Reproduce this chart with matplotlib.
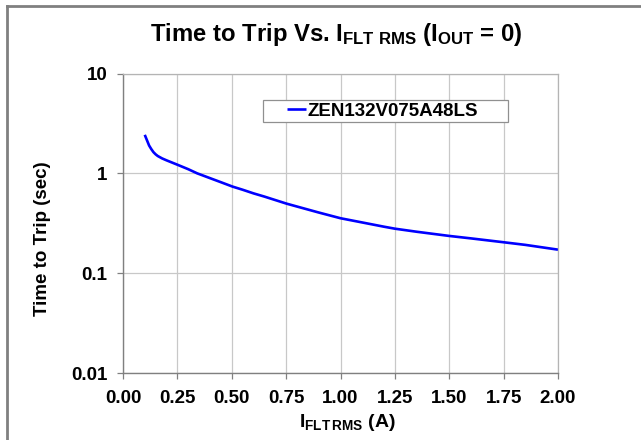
import matplotlib
matplotlib.use("Agg")
import matplotlib.pyplot as plt
from matplotlib.ticker import FixedLocator, FixedFormatter, NullLocator
from matplotlib.lines import Line2D
from matplotlib.patches import Rectangle

# ---- data ----
current_a = [0.10, 0.11, 0.12, 0.13, 0.14, 0.15, 0.16, 0.18, 0.20, 0.25, 0.30, 0.341,
             0.40, 0.45, 0.504, 0.55, 0.60, 0.65, 0.70, 0.752, 0.80, 0.90, 1.00,
             1.10, 1.20, 1.25, 1.35, 1.50, 1.60, 1.75, 1.85, 2.00]
trip_s = [2.43, 2.15, 1.90, 1.75, 1.63, 1.55, 1.49, 1.41, 1.35, 1.22, 1.10, 1.00,
          0.895, 0.815, 0.736, 0.685, 0.630, 0.585, 0.540, 0.497, 0.465, 0.405, 0.355,
          0.322, 0.292, 0.279, 0.260, 0.236, 0.223, 0.204, 0.192, 0.172]
series_name = "ZEN132V075A48LS"
x_ticks = [0.00, 0.25, 0.50, 0.75, 1.00, 1.25, 1.50, 1.75, 2.00]
x_tick_labels = ["0.00", "0.25", "0.50", "0.75", "1.00", "1.25", "1.50", "1.75", "2.00"]
y_ticks = [0.01, 0.1, 1, 10]
y_tick_labels = ["0.01", "0.1", "1", "10"]

plt.rcParams['font.family'] = ['Liberation Sans', 'DejaVu Sans']
plt.rcParams['font.weight'] = 'bold'
plt.rcParams['mathtext.fontset'] = 'custom'
plt.rcParams['mathtext.rm'] = 'Liberation Sans:bold'
plt.rcParams['mathtext.it'] = 'Liberation Sans:bold'
plt.rcParams['mathtext.bf'] = 'Liberation Sans:bold'

W, H = 641, 440
fig = plt.figure(figsize=(W / 100, H / 100), dpi=100)
fig.patch.set_facecolor('white')

L, R, T, B = 123, 558, 73.5, 373
ax = fig.add_axes([L / W, 1 - B / H, (R - L) / W, (B - T) / H])

ax.plot(current_a, trip_s, color='#0000ff', lw=1.9, solid_capstyle='butt',
        solid_joinstyle='round', label=series_name)
ax.set_yscale('log')
ax.set_xlim(0, 2.0)
ax.set_ylim(0.01, 10)

ax.xaxis.set_major_locator(FixedLocator(x_ticks))
ax.xaxis.set_major_formatter(FixedFormatter(x_tick_labels))
ax.yaxis.set_major_locator(FixedLocator(y_ticks))
ax.yaxis.set_major_formatter(FixedFormatter(y_tick_labels))
ax.yaxis.set_minor_locator(NullLocator())
ax.xaxis.set_minor_locator(NullLocator())

ax.grid(True, which='major', color='#c8c8c8', lw=0.9)
ax.set_axisbelow(True)
for s in ['left', 'bottom']:
    ax.spines[s].set_color('#808080')
    ax.spines[s].set_linewidth(1.0)
for s in ['top', 'right']:
    ax.spines[s].set_color('#b4b4b4')
    ax.spines[s].set_linewidth(0.9)

ax.tick_params(axis='both', which='major', direction='out', length=4,
               width=0.9, color='#808080', labelsize=13.5)
ax.tick_params(axis='y', pad=7)
ax.tick_params(axis='x', pad=8)
for lab in ax.get_xticklabels() + ax.get_yticklabels():
    lab.set_fontweight('bold')

# legend box (drawn as a rectangle, Excel style wide padding)
def fx(px):
    return (px - L) / (R - L)


def fy(py):
    return 1 - (py - T) / (B - T)


ax.add_patch(Rectangle((fx(263), fy(122)), fx(508) - fx(263), fy(100) - fy(122),
                       transform=ax.transAxes, facecolor='white', edgecolor='#909090',
                       lw=0.9, zorder=4))
leg = ax.legend(loc='center left', bbox_to_anchor=(fx(287), fy(111)),
                fontsize=13.5, frameon=False, handlelength=1.0, handletextpad=0.1,
                borderpad=0.0, borderaxespad=0)
leg.set_zorder(5)
for t in leg.get_texts():
    t.set_fontweight('bold')

# title and labels
fig.text(336 / W, 1 - 40.7 / H,
         r"Time to Trip Vs. I$_{\mathrm{FLT\ RMS}}$ (I$_{\mathrm{OUT}}$ = 0)",
         ha='center', va='baseline', fontsize=17.2, fontweight='bold')
fig.text(347.5 / W, 1 - 427 / H, r"I$_{\mathrm{FLT\,RMS}}$ (A)",
         ha='center', va='baseline', fontsize=14, fontweight='bold')
fig.text(43 / W, 1 - 238.5 / H, "Time to Trip (sec)", rotation=90,
         ha='center', va='center', fontsize=13.5, fontweight='bold')

# outer frame (top and left edges)
fig.add_artist(Line2D([7 / W, 1.0], [1 - 6 / H, 1 - 6 / H], color='#808080', lw=2.0,
                      transform=fig.transFigure))
fig.add_artist(Line2D([7 / W, 7 / W], [0, 1 - 6 / H], color='#808080', lw=2.0,
                      transform=fig.transFigure))

fig.savefig('out.png', dpi=100)
